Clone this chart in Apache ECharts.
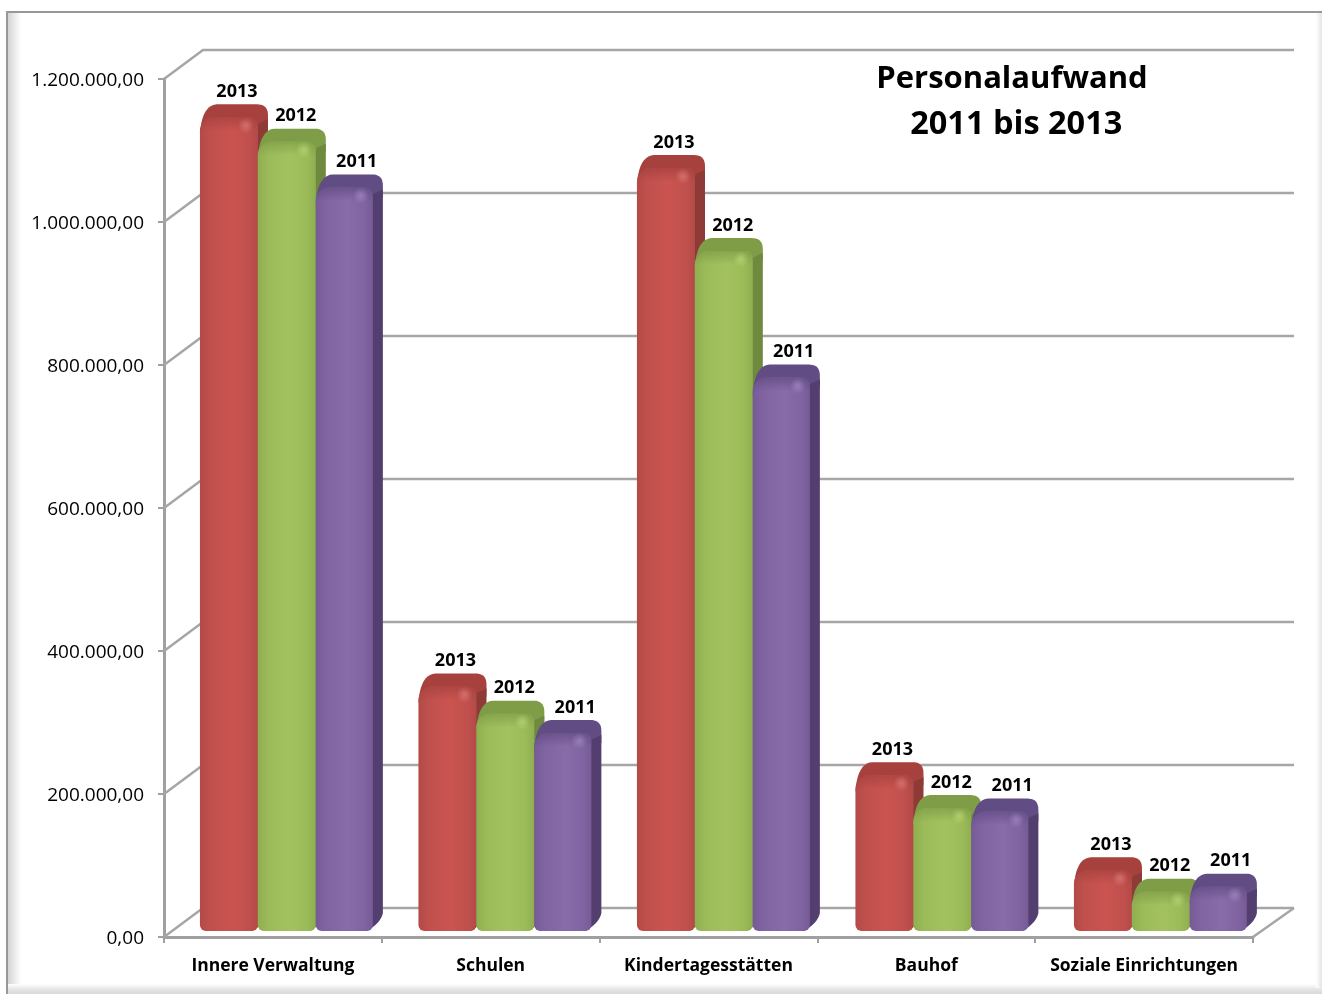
<!DOCTYPE html>
<html>
<head>
<meta charset="utf-8">
<style>html,body{margin:0;padding:0;background:#fff}#c{width:1322px;height:994px}</style>
<script src="https://cdn.jsdelivr.net/npm/echarts@6/dist/echarts.min.js"></script>
</head>
<body>
<div id="c"></div>
<script>
const categories = ['Innere Verwaltung','Schulen','Kindertagesstätten','Bauhof','Soziale Einrichtungen'];
const years = ['2013','2012','2011'];
const values2013 = [1138000,342000,1067000,218000,85000];
const values2012 = [1104000,304000,951000,172000,55000];
const values2011 = [1040000,277000,774000,167000,62000];
const tickValues = [0,200000,400000,600000,800000,1000000,1200000];
const titleLines = '{a|Personalaufwand}\n{b| 2011 bis 2013}';

const palette = [
  {face:'#C0504D',light:'#CA5450',edge:'#B24A47',cap:'#A6413E',side:'#8E3B38',spot:'rgba(255,170,165,0.38)'},
  {face:'#9BBB59',light:'#A3C25F',edge:'#8FAE50',cap:'#7F9C47',side:'#6F8A3E',spot:'rgba(225,250,150,0.38)'},
  {face:'#8064A2',light:'#886CA9',edge:'#755B96',cap:'#624C84',side:'#523F6F',spot:'rgba(205,180,235,0.38)'}
];
const labelShift = [37,38,41];
const faceOffsets = [-0.335,-0.0695,0.1965];
const faceWidths = [0.2665,0.2665,0.2625];
const DX = 10, DY = 13, BASE_LIFT = 6;
const WALL_DX = 39, WALL_DY = 29;

function curve(p0,c,p1){
  const out = [];
  for(let k=0;k<=10;k++){
    const t=k/10,u=1-t;
    out.push([u*u*p0[0]+2*u*t*c[0]+t*t*p1[0],u*u*p0[1]+2*u*t*c[1]+t*t*p1[1]]);
  }
  return out;
}

function barRenderer(s){
  return function(params, api){
    const i = api.value(0), v = api.value(1);
    const c = api.coord([i, v]), c0 = api.coord([i, 0]);
    const band = api.size([1,0])[0];
    const w = band*faceWidths[s];
    const x = c[0] + band*faceOffsets[s] + i*0.7;
    const top = c[1]-BASE_LIFT, base = c0[1]-BASE_LIFT;
    const h = base-top;
    const p = palette[s];
    const faceFill = new echarts.graphic.LinearGradient(0,0,1,0,[
      {offset:0,color:p.edge},{offset:0.18,color:p.face},{offset:0.55,color:p.light},
      {offset:0.85,color:p.face},{offset:1,color:p.edge}]);
    const capPts = [
      ...curve([x,top+16],[x+2,top-DY+1],[x+17,top-DY]),
      ...curve([x+w-1,top-DY],[x+w+DX,top-DY],[x+w+DX,top-2]),
      [x+w+DX,top+10],[x+w,top+12]
    ];
    const sidePts = [
      [x+w-3,top+8],[x+w+DX,top+2],[x+w+DX,base-18],
      ...curve([x+w+DX,base-18],[x+w+DX-2,base-8],[x+w-6,base])
    ];
    return {type:'group',children:[
      {type:'polygon',shape:{points:capPts},style:{fill:p.cap}},
      {type:'polygon',shape:{points:sidePts},style:{fill:p.side}},
      {type:'rect',shape:{x:x,y:top,width:w,height:h,r:[14,8,6,6]},style:{fill:faceFill}},
      {type:'rect',shape:{x:x,y:top,width:w,height:Math.min(14,h),r:[14,8,0,0]},style:{fill:new echarts.graphic.LinearGradient(0,0,0,1,[
        {offset:0,color:p.cap},{offset:1,color:p.cap+'00'}]),opacity:0.75}},
      {type:'circle',shape:{cx:x+w-12,cy:top+8,r:8},style:{fill:new echarts.graphic.RadialGradient(0.5,0.5,0.5,[
        {offset:0,color:p.spot},{offset:1,color:p.spot.replace(/[\d.]+\)$/,'0)')}])}},
      {type:'text',style:{text:years[s],x:x+labelShift[s],y:top-DY-12.5,align:'center',verticalAlign:'middle',
        font:'bold 18px "Open Sans"',fill:'#000'}}
    ]};
  };
}

function wallRenderer(params, api){
  const v = api.value(0);
  const y = api.coord([0,v])[1];
  const cs = params.coordSys;
  const style = {stroke:'#A6A6A6',lineWidth:2.5,fill:null};
  const kids = [{type:'polyline',shape:{points:[[cs.x,y],[cs.x+WALL_DX,y-WALL_DY],[cs.x+cs.width+WALL_DX+2,y-WALL_DY]]},style}];
  if(v===0){ kids.push({type:'line',shape:{x1:cs.x+cs.width,y1:y,x2:cs.x+cs.width+WALL_DX+2,y2:y-WALL_DY},style}); }
  return {type:'group',children:kids};
}

const chart = echarts.init(document.getElementById('c'),null,{renderer:'canvas'});
const seriesData = [values2013,values2012,values2011];
chart.setOption({
  animation:false,
  backgroundColor:'#fff',
  textStyle:{fontFamily:'"Open Sans"'},
  graphic:[
    {type:'rect',z:-10,shape:{x:7,y:12,width:1315,height:982},style:{fill:'#fff',stroke:'#979797',lineWidth:2}},
    {type:'rect',z:-9,shape:{x:8,y:13,width:13,height:975},style:{fill:new echarts.graphic.LinearGradient(0,0,1,0,[{offset:0,color:'#d4d4d4'},{offset:1,color:'#fff'}])}},
    {type:'rect',z:-9,shape:{x:8,y:984,width:1314,height:10},style:{fill:new echarts.graphic.LinearGradient(0,0,0,1,[{offset:0,color:'#fff'},{offset:0.5,color:'#e6e6e6'},{offset:1,color:'#d8d8d8'}])}},
    {type:'rect',z:-9,shape:{x:1316,y:13,width:6,height:975},style:{fill:new echarts.graphic.LinearGradient(0,0,1,0,[{offset:0,color:'#fff'},{offset:1,color:'#e4e4e4'}])}}
  ],
  title:{text:titleLines,left:1007,top:51,textAlign:'center',
    textStyle:{fontFamily:'"Open Sans"',fontWeight:'bold',fontSize:31,lineHeight:46,color:'#000',
      rich:{a:{fontFamily:'"Open Sans"',fontWeight:'bold',fontSize:31,lineHeight:46,color:'#000'},
            b:{fontFamily:'"Open Sans"',fontWeight:'bold',fontSize:32.5,lineHeight:46,color:'#000'}}}},
  grid:{left:164,right:69,top:79,bottom:57,containLabel:false},
  xAxis:{type:'category',data:categories,
    axisLine:{lineStyle:{color:'#A0A0A0',width:3}},
    axisTick:{show:true,length:6,alignWithLabel:false,lineStyle:{color:'#A0A0A0',width:2}},
    axisLabel:{interval:0,margin:20,fontFamily:'"Open Sans"',fontWeight:'bold',fontSize:17.5,color:'#000'}},
  yAxis:{type:'value',min:0,max:1200000,interval:200000,
    axisLine:{show:true,lineStyle:{color:'#A0A0A0',width:3}},
    axisTick:{show:true,length:6,lineStyle:{color:'#A0A0A0',width:2}},
    splitLine:{show:false},
    axisLabel:{margin:20,color:'#000',
      rich:{t:{fontFamily:'"Open Sans"',fontSize:19,color:'#000',padding:[4,0,0,0]}},
      formatter:v=>'{t|'+v.toLocaleString('de-DE',{minimumFractionDigits:2,maximumFractionDigits:2})+'}'}},
  series:[
    {type:'custom',name:'wand',silent:true,z:1,renderItem:wallRenderer,data:tickValues.map(v=>[v]),encode:{y:0}},
    ...years.map((y,s)=>({type:'custom',name:y,z:3+s,renderItem:barRenderer(s),
      data:categories.map((c,i)=>[i,seriesData[s][i]]),encode:{x:0,y:1}}))
  ]
});
</script>
</body>
</html>
